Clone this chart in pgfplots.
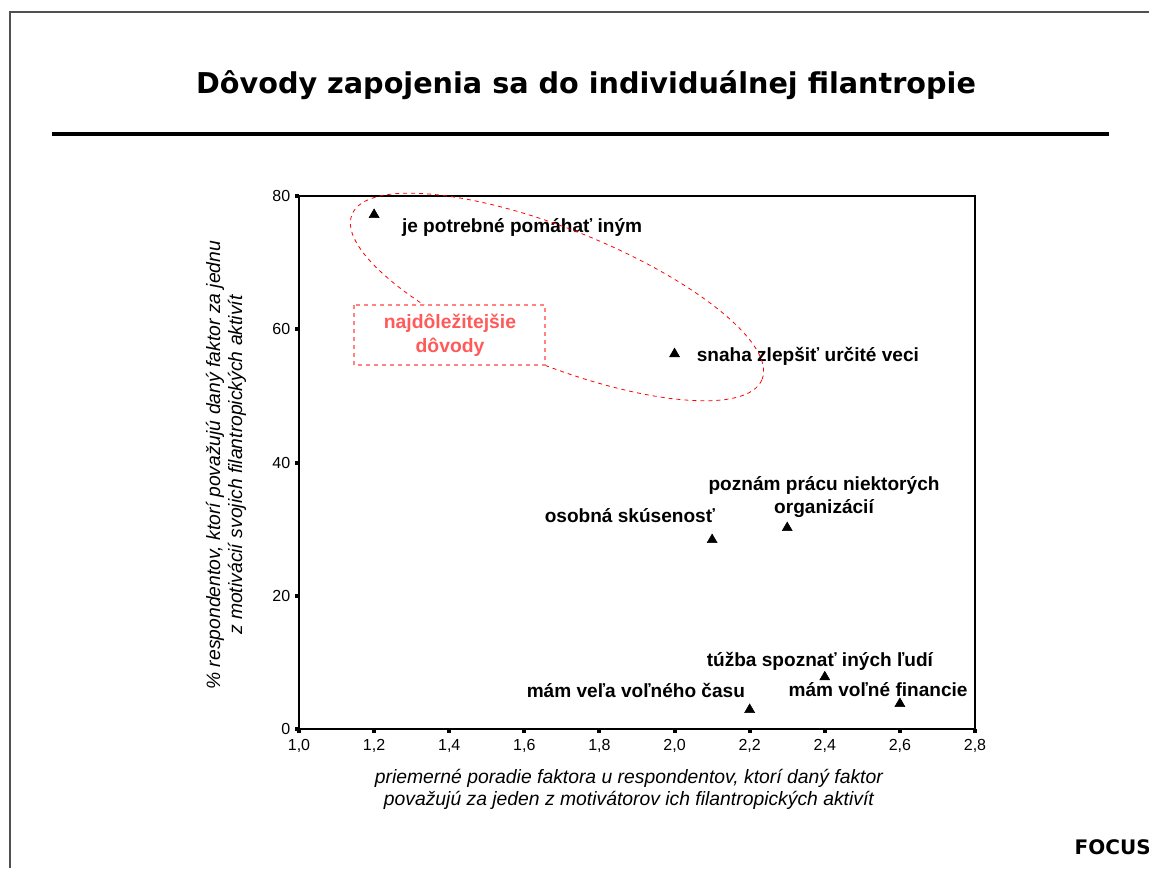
\documentclass[border=0pt]{standalone}
\usepackage{pgfplots}
\pgfplotsset{compat=1.18}
\usepackage{fontspec}
\setmainfont{Liberation Sans}
\newfontfamily\titlefont{DejaVu Sans}
\definecolor{boxred}{RGB}{255,130,130}
\definecolor{txtred}{RGB}{255,90,90}
\definecolor{framegray}{RGB}{80,80,80}
\begin{document}
\begin{tikzpicture}[x=0.75pt,y=0.75pt]
\useasboundingbox (0,0) rectangle (1149,868);
% slide frame
\draw[framegray,line width=2pt] (10,0) -- (10,856) -- (1160,856);
% title
\node[font=\titlefont\bfseries\fontsize{21.5}{26}\selectfont] at (586,783) {Dôvody zapojenia sa do individuálnej filantropie};
\draw[line width=3pt] (52,734) -- (1109,734);
\node[anchor=west,font=\titlefont\bfseries\fontsize{15}{17}\selectfont] at (1070,21) {FOCUS};
\begin{axis}[
  at={(224.25pt,104.25pt)}, anchor=south west,
  scale only axis, width=507pt, height=399.75pt,
  xmin=1, xmax=2.8, ymin=0, ymax=80,
  xtick={1,1.2,1.4,1.6,1.8,2,2.2,2.4,2.6,2.8},
  ytick={0,20,40,60,80},
  tick pos=left, tick align=outside,
  major tick length=3pt,
  tick style={line width=3pt,black},
  axis line style={line width=1.5pt},
  /pgf/number format/assume math mode=true,
  xticklabel style={yshift=-1.5pt,/pgf/number format/.cd,use comma,fixed,fixed zerofill,precision=1},
  ticklabel style={font=\fontsize{12}{14}\selectfont},
  xlabel={priemerné poradie faktora u respondentov, ktorí daný faktor\\považujú za jeden z motivátorov ich filantropických aktivít},
  xlabel style={font=\itshape\fontsize{14.5}{16.5}\selectfont, align=center, at={(axis description cs:0.488,-0.1126)}, anchor=center},
  ylabel={\% respondentov, ktorí považujú daný faktor za jednu\\z motivácií svojich filantropických aktivít},
  ylabel style={font=\itshape\fontsize{14.5}{16.5}\selectfont, align=center, at={(axis description cs:-0.108,0.495)}, anchor=center},
  clip=false,
]
\addplot[only marks, mark=triangle*, mark size=4.3pt, black] coordinates {
  (1.2,77.2) (2.0,56.3) (2.1,28.4) (2.3,30.2) (2.4,7.8) (2.2,2.9) (2.6,3.8)
};
\begin{scope}[every node/.style={font=\bfseries\fontsize{14.3}{17.5}\selectfont, align=center}]
\node at (axis cs:1.594,75.3) {je potrebné pomáhať iným};
\node at (axis cs:2.355,56.0) {snaha zlepšiť určité veci};
\node at (axis cs:2.398,34.8) {poznám prácu niektorých\\organizácií};
\node at (axis cs:1.881,32.1) {osobná skúsenosť};
\node at (axis cs:2.387,10.2) {túžba spoznať iných ľudí};
\node at (axis cs:1.897,5.85) {mám veľa voľného času};
\node at (axis cs:2.542,5.85) {mám voľné financie};
\end{scope}
\end{axis}
% highlight ellipse and box
\draw[red, dashed, line width=0.6pt, rotate around={-21.9:(557,571)}] (557,571) ellipse [x radius=221, y radius=68];
\draw[boxred, dashed, line width=1pt, fill=white] (354,563) rectangle (545,503);
\node[txtred, font=\bfseries\fontsize{14.5}{18}\selectfont, align=center] at (450,533) {najdôležitejšie\\dôvody};
\end{tikzpicture}
\end{document}
